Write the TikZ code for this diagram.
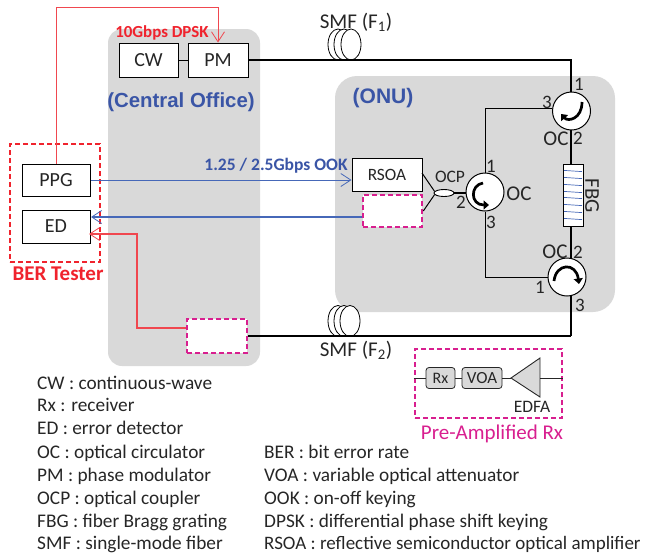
\documentclass[tikz,border=0pt]{standalone}
\usepackage{fontspec}
\setmainfont{Carlito}
\newfontfamily\arialf{Liberation Sans}
\usetikzlibrary{arrows.meta,shapes.geometric,calc}
\definecolor{cgray}{HTML}{D9D9D9}
\definecolor{cblue}{HTML}{3A55A6}
\definecolor{lblue}{HTML}{4668B8}
\definecolor{cred}{HTML}{F0232D}
\definecolor{lred}{HTML}{F0474F}
\definecolor{cmag}{HTML}{D81F8F}
\definecolor{ctext}{HTML}{262626}
\tikzset{
  region/.style={fill=cgray,draw=none,rounded corners=#1},
  devbox/.style={draw=black,line width=1pt,fill=white,inner sep=0pt,text=ctext,font=\fontsize{20}{22}\selectfont},
  magbox/.style={draw=cmag,line width=2.6pt,dash pattern=on 5pt off 3pt,fill=white,inner sep=0pt},
  smallbox/.style={draw=ctext,line width=0.8pt,fill=cgray,rounded corners=3pt,inner sep=0pt,text=ctext,font=\fontsize{16}{18}\selectfont},
  circ/.style={circle,draw=black,line width=1pt,fill=white,minimum size=38pt,inner sep=0pt},
  fiber/.style={draw=black,line width=1.6pt},
  thinfiber/.style={draw=black,line width=1pt},
  sig/.style={line width=1pt,-{Straight Barb[length=10pt,width=13pt,line width=0.8pt]}},
  turn/.style={line width=2.7pt,-{Triangle[length=5.5pt,width=9pt]}},
  coil/.style={ellipse,draw=black,line width=0.8pt,fill=white,minimum width=20pt,minimum height=31pt,inner sep=0pt},
  lab/.style={text=ctext,inner sep=0pt,font=\fontsize{19}{21}\selectfont},
  wlab/.style={text=ctext,inner sep=0pt,font=\fontsize{21}{23}\selectfont},
  leg/.style={text=ctext,inner sep=0pt,anchor=base west,font=\fontsize{19.3}{21}\selectfont},
}
\begin{document}
\begin{tikzpicture}[x=1pt,y=-1pt]
\useasboundingbox (0,0) rectangle (650,555);
% regions
\fill[region=14pt] (108,29) rectangle (260,366);
\fill[region=22pt] (335,76) rectangle (615,312);
% coils
\node[coil] (c1a) at (338,44.5) {};
\node[coil] (c1b) at (344,44.5) {};
\node[coil] (c1c) at (351,44.5) {};
\node[coil] (c2a) at (338,321) {};
\node[coil] (c2b) at (344,321) {};
\node[coil] (c2c) at (350,321) {};
% devices
\node[devbox,minimum width=59pt,minimum height=34pt] (cw) at (148.5,60) {CW};
\node[devbox,minimum width=60pt,minimum height=34pt] (pm) at (218,60) {PM};
\node[devbox,minimum width=68pt,minimum height=32pt] (ppg) at (56,180) {PPG};
\node[devbox,minimum width=68pt,minimum height=33pt] (ed) at (56,226.5) {ED};
\node[devbox,minimum width=70pt,minimum height=33pt,font=\fontsize{17.3}{19}\selectfont] (rsoa) at (387,174.5) {RSOA};
\node[magbox,minimum width=59pt,minimum height=32pt] (dash1) at (392.5,211) {};
\node[magbox,minimum width=60pt,minimum height=34pt] (dash2) at (217,336) {};
\node[circ] (octop) at (571.5,111) {};
\node[circ] (ocmid) at (485,192) {};
\node[circ] (ocbot) at (567,277) {};
\node[draw=black,line width=0.9pt,fill=white,minimum width=20pt,minimum height=62pt,inner sep=0pt] (fbg) at (573,195) {};
\node[ellipse,draw=black,line width=0.9pt,fill=white,minimum width=20pt,minimum height=7pt,inner sep=0pt] (ocp) at (444,193) {};
% helpers
\coordinate (tr) at (571,336);
\coordinate (j3) at (485,108);
\coordinate (j4) at (485,277);
% fibers
\draw[thinfiber] (cw.east) -- (pm.west);
\draw[fiber] (pm.east) -- (571,60) -- (571,92);
\draw[fiber] (571,130) -- (571,164);
\draw[fiber] (571,226) -- (571,258);
\draw[fiber] (571,296) -- (tr);
\draw[fiber] (dash2.east) -- (tr);
\draw[thinfiber] (octop.west |- j3) -- (j3) -- (ocmid.north);
\draw[thinfiber] (ocmid.south) -- (j4) -- (ocbot.west);
\draw[thinfiber] (422,173) -- (ocp.170);
\draw[thinfiber] (dash1.east) -- (ocp.190);
\draw[fiber] (ocp.east) -- (ocmid.west |- ocp.east);
% FBG gratings
\foreach \yy in {171,178,185,192,198,205,212,219}
  \draw[lblue,line width=0.7pt] (564,\yy-0.6) -- (582,\yy+0.6);
% circulator arrows
\draw[turn] (582,102) .. controls (582,119) and (568,122) .. (561,114);
\draw[turn] (483,183) .. controls (470,185) and (470,205) .. (489,205);
\draw[turn] (554,281) .. controls (556,263) and (576,262) .. (579,284);
% tester and signals
\node[draw=cred,line width=2.6pt,dash pattern=on 5pt off 3pt,minimum width=90pt,minimum height=118pt,inner sep=0pt] (ber) at (55,203) {};
\coordinate (r1) at (56,7);
\coordinate (r2) at (218,7);
\draw[lred,sig] (ppg.north) -- (r1) -- (r2) -- (pm.north);
\draw[lblue,sig] (ppg.east) -- (rsoa.west |- ppg.east);
\draw[lblue,sig,line width=1.1pt] (dash1.west |- 0,217) -- (91,217);
\coordinate (r3) at (137,328);
\coordinate (r4) at (137,234);
\draw[lred,sig,line width=1.1pt] (dash2.west |- r3) -- (r3) -- (r4) -- (89,234);
% pre-amplified
\node[draw=cmag,line width=2.6pt,dash pattern=on 5pt off 3pt,minimum width=147pt,minimum height=69pt,inner sep=0pt] (pre) at (488.5,383.5) {};
\node[smallbox,minimum width=29pt,minimum height=21pt] (rx) at (440.5,378) {Rx};
\node[smallbox,minimum width=40pt,minimum height=21pt,font=\fontsize{17}{19}\selectfont] (voa) at (482,378) {VOA};
\coordinate (tip) at (511,378);
\coordinate (bu) at (540,358);
\coordinate (bd) at (540,397);
\coordinate (bm) at (540,378);
\draw[draw=ctext,line width=0.9pt,fill=cgray] (tip) -- (bu) -- (bd) -- cycle;
\draw[ctext,line width=0.9pt] (pre.west |- rx.west) -- (rx.west);
\draw[ctext,line width=0.9pt] (rx.east) -- (voa.west);
\draw[ctext,line width=0.9pt] (voa.east) -- (tip);
\draw[ctext,line width=0.9pt] (bm) -- (pre.east |- bm);
% labels
\node[inner sep=0pt,text=cred,font=\fontsize{16.9}{18}\selectfont\bfseries] (t1) at (162,33) {10Gbps DPSK};
\node[inner sep=0pt,text=cblue,font=\arialf\fontsize{20.4}{22}\selectfont\bfseries] (t2) at (181,102) {(Central Office)};
\node[inner sep=0pt,text=cblue,font=\arialf\fontsize{21}{23}\selectfont\bfseries] (t3) at (383,98) {(ONU)};
\node[inner sep=0pt,text=cblue,font=\fontsize{17.5}{19}\selectfont\bfseries] (t4) at (276,166) {1.25 / 2.5Gbps OOK};
\node[inner sep=0pt,text=cred,font=\fontsize{21}{23}\selectfont\bfseries] (t5) at (58,274) {BER Tester};
\node[wlab] (t6) at (356,22) {SMF (F\textsubscript{1})};
\node[wlab] (t7) at (356,350) {SMF (F\textsubscript{2})};
\node[lab] at (579,84) {1};
\node[lab] at (547,102) {3};
\node[wlab] at (556,139) {OC};
\node[lab] at (578,138) {2};
\node[wlab,rotate=-90] at (592,196) {FBG};
\node[lab] at (491,166) {1};
\node[lab,font=\fontsize{17.5}{19}\selectfont] at (450,177) {OCP};
\node[lab] at (461,202) {2};
\node[lab] at (491,222) {3};
\node[wlab] at (519,194) {OC};
\node[wlab] at (555,252) {OC};
\node[lab] at (578,252) {2};
\node[lab] at (540,287) {1};
\node[lab] at (580,305) {3};
\node[lab,font=\fontsize{17.5}{19}\selectfont] at (532,407) {EDFA};
\node[inner sep=0pt,text=cmag,font=\fontsize{21}{23}\selectfont] at (492,434) {Pre-Amplified Rx};
% legend
\node[leg] at (37,389) {CW : continuous-wave};
\node[leg] at (37,411) {Rx : receiver};
\node[leg] at (37,434) {ED : error detector};
\node[leg] at (37,458) {OC : optical circulator};
\node[leg] at (37,481) {PM : phase modulator};
\node[leg] at (37,504) {OCP : optical coupler};
\node[leg] at (37,527) {FBG : fiber Bragg grating};
\node[leg] at (37,549) {SMF : single-mode fiber};
\node[leg] at (264,458) {BER : bit error rate};
\node[leg] at (264,481) {VOA : variable optical attenuator};
\node[leg] at (264,504) {OOK : on-off keying};
\node[leg] at (264,527) {DPSK : differential phase  shift keying};
\node[leg,font=\fontsize{19}{21}\selectfont] at (264,549) {RSOA  : reflective semiconductor optical amplifier};
\end{tikzpicture}
\end{document}
